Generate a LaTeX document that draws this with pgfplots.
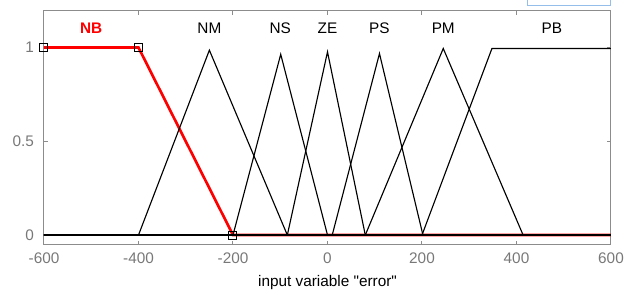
\documentclass[border=0pt]{standalone}
\usepackage{fontspec}
\setmainfont{Liberation Sans}[Ligatures=TeXOff]
\usepackage{pgfplots}
\pgfplotsset{compat=1.18}
\definecolor{axgray}{RGB}{140,140,140}
\definecolor{lblgray}{RGB}{120,120,120}
\definecolor{uiblue}{RGB}{150,190,235}
\begin{document}
\begin{tikzpicture}
\path[use as bounding box] (-33pt,-37.5pt) rectangle (443.25pt,183.75pt);
\draw[uiblue, line width=0.75pt] (362.25pt,184pt) -- (362.25pt,179.6pt) -- (424.5pt,179.6pt) -- (424.5pt,184pt);
\begin{axis}[
 at={(0,0)}, anchor=south west, scale only axis, width=425.25pt, height=175.5pt,
 xmin=-600, xmax=600, ymin=-0.053, ymax=1.195,
 xtick={-600,-400,...,600}, xticklabels={-600,-400,-200,0,200,400,600},
 ytick={0,0.5,1}, yticklabels={0,0.5,1},
 xtick pos=both, ytick pos=both, xticklabel pos=lower, yticklabel pos=left,
 tick align=inside, major tick length=3pt,
 axis line style={axgray, line width=0.75pt},
 tick style={axgray, line width=0.75pt},
 tick label style={font=\fontsize{11.5}{13}\selectfont, text=lblgray},
 xticklabel style={yshift=-2pt},
 yticklabel style={xshift=-4pt},
 xlabel={input variable "error"},
 xlabel style={font=\fontsize{11.5}{13}\selectfont, at={(axis description cs:0.5,0)}, anchor=center, yshift=-28.5pt},
 clip=false,
]
\addplot[red, line width=2pt, mark=square, mark indices={1,2,3}, mark size=3pt,
  mark options={black, line width=0.75pt, fill=none, solid}]
  coordinates {(-600,1) (-400,1) (-200,0) (600,0)};
\addplot[black, line width=0.85pt] coordinates {(-600,0) (-400,0) (-250,0.986) (-85,0) (600,0)};
\addplot[black, line width=0.85pt] coordinates {(-600,0) (-200,0) (-99,0.964) (0,0) (600,0)};
\addplot[black, line width=0.85pt] coordinates {(-600,0) (-85,0) (0,0.977) (80,0) (600,0)};
\addplot[black, line width=0.85pt] coordinates {(-600,0) (10,0) (110,0.968) (202,0) (600,0)};
\addplot[black, line width=0.85pt] coordinates {(-600,0) (80,0) (245,0.995) (414,0) (600,0)};
\addplot[black, line width=0.85pt] coordinates {(-600,0) (200,0) (348,0.995) (600,0.995)};
\begin{scope}[font=\fontsize{11.5}{13}\selectfont]
\node[red, font=\fontsize{11.5}{13}\selectfont\bfseries] at (axis cs:-500,1.103) {NB};
\node at (axis cs:-250,1.103) {NM};
\node at (axis cs:-100,1.103) {NS};
\node at (axis cs:0,1.103) {ZE};
\node at (axis cs:110,1.103) {PS};
\node at (axis cs:245,1.103) {PM};
\node at (axis cs:475,1.103) {PB};
\end{scope}
\end{axis}
\end{tikzpicture}
\end{document}
